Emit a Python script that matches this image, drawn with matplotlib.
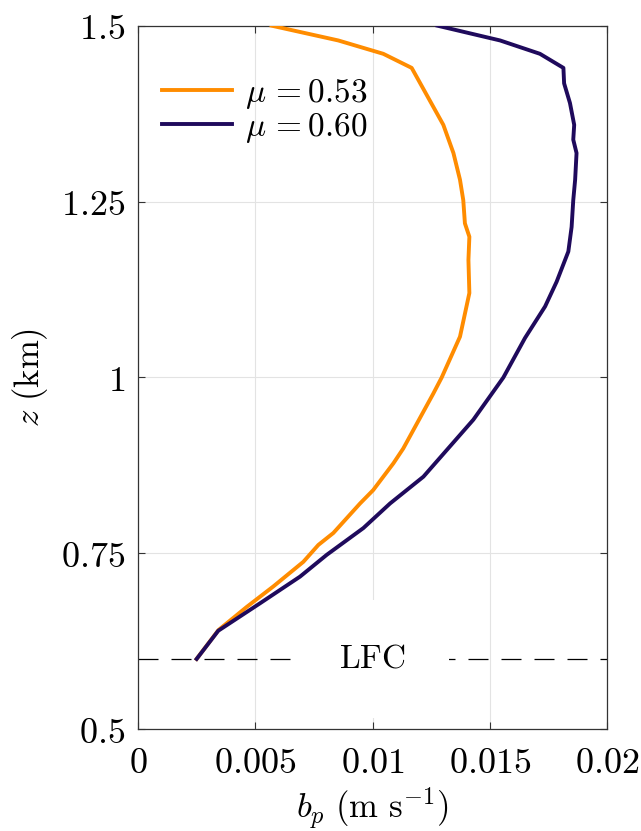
import matplotlib
matplotlib.use('Agg')
import matplotlib.pyplot as plt
import numpy as np

plt.rcParams['mathtext.fontset'] = 'cm'
plt.rcParams['font.family'] = 'serif'
plt.rcParams['font.serif'] = ['DejaVu Serif']

# buoyancy profiles
z_053 = [1.5, 1.479, 1.46, 1.44, 1.359, 1.319, 1.281, 1.252, 1.219, 1.2, 1.167, 1.12,
         1.058, 1.0, 0.977, 0.899, 0.878, 0.84, 0.821, 0.80, 0.779, 0.762, 0.738,
         0.703, 0.674, 0.641, 0.6]
bp_053 = [0.0057, 0.00854, 0.01046, 0.01167, 0.01302, 0.01345, 0.01373, 0.01387,
          0.01394, 0.01413, 0.01409, 0.01413, 0.01373, 0.01295, 0.01259, 0.01131,
          0.01089, 0.01003, 0.00947, 0.0089, 0.00833, 0.00769, 0.00705, 0.00577,
          0.00464, 0.00343, 0.0025]

z_060 = [1.5, 1.479, 1.46, 1.44, 1.418, 1.39, 1.359, 1.338, 1.319, 1.281, 1.252,
         1.214, 1.179, 1.136, 1.101, 1.056, 1.0, 0.94, 0.859, 0.821, 0.786, 0.748,
         0.717, 0.679, 0.64, 0.6]
bp_060 = [0.01277, 0.01544, 0.01714, 0.01814, 0.01817, 0.01842, 0.0186, 0.01856,
          0.0187, 0.01864, 0.01856, 0.01849, 0.01835, 0.01785, 0.01736, 0.0165,
          0.01558, 0.0143, 0.01217, 0.01075, 0.00961, 0.00805, 0.00691, 0.0052,
          0.00342, 0.0025]

z_lfc = 0.6
x_ticks = [0, 0.005, 0.01, 0.015, 0.02]
x_ticklabels = ['$0$', '$0.005$', '$0.01$', '$0.015$', '$0.02$']
y_ticks = [0.5, 0.75, 1, 1.25, 1.5]
y_ticklabels = ['$0.5$', '$0.75$', '$1$', '$1.25$', '$1.5$']


def plot_profiles():
    fig = plt.figure(figsize=(6.41, 8.31), dpi=100)
    ax = fig.add_axes([0.2153, 0.1224, 0.7317, 0.8467])

    ax.axhline(z_lfc, color='black', linestyle=(0, (16, 10.4)), linewidth=0.9, zorder=1)
    ax.text(0.01, z_lfc, r'$\mathrm{LFC}$', fontsize=24, ha='center', va='center',
            bbox=dict(facecolor='white', edgecolor='none', pad=31), zorder=2)

    ax.plot(bp_053, z_053, color='#FF8C00', linewidth=2.8, label=r'$\mu\,{=}0.53$', zorder=3)
    ax.plot(bp_060, z_060, color='#1F0A5C', linewidth=2.8, label=r'$\mu\,{=}0.60$', zorder=3)

    ax.set_xlim(0, 0.02)
    ax.set_ylim(0.5, 1.5)
    ax.set_xticks(x_ticks)
    ax.set_xticklabels(x_ticklabels)
    ax.set_yticks(y_ticks)
    ax.set_yticklabels(y_ticklabels)
    ax.tick_params(direction='in', length=5, width=0.8, top=True, right=True,
                   labelsize=26, color='#333333')
    ax.tick_params(axis='x', pad=12)
    ax.tick_params(axis='y', pad=9)
    ax.set_axisbelow(True)
    ax.grid(color='#e3e3e3', linewidth=0.8)
    for sp in ax.spines.values():
        sp.set_color('#333333')
        sp.set_linewidth(0.9)

    ax.set_xlabel(r'$b_p\ \mathrm{(m\ s^{-1})}$', fontsize=25, labelpad=4)
    ax.set_ylabel(r'$z\ \mathrm{(km)}$', fontsize=25, labelpad=8)

    ax.legend(loc='upper left', bbox_to_anchor=(0.023, 0.946), frameon=False, fontsize=24,
              handlelength=2.1, handletextpad=0.4, labelspacing=0.0, borderaxespad=0)

    fig.savefig('out.png', dpi=100)


def main():
    plot_profiles()


if __name__ == '__main__':
    main()
